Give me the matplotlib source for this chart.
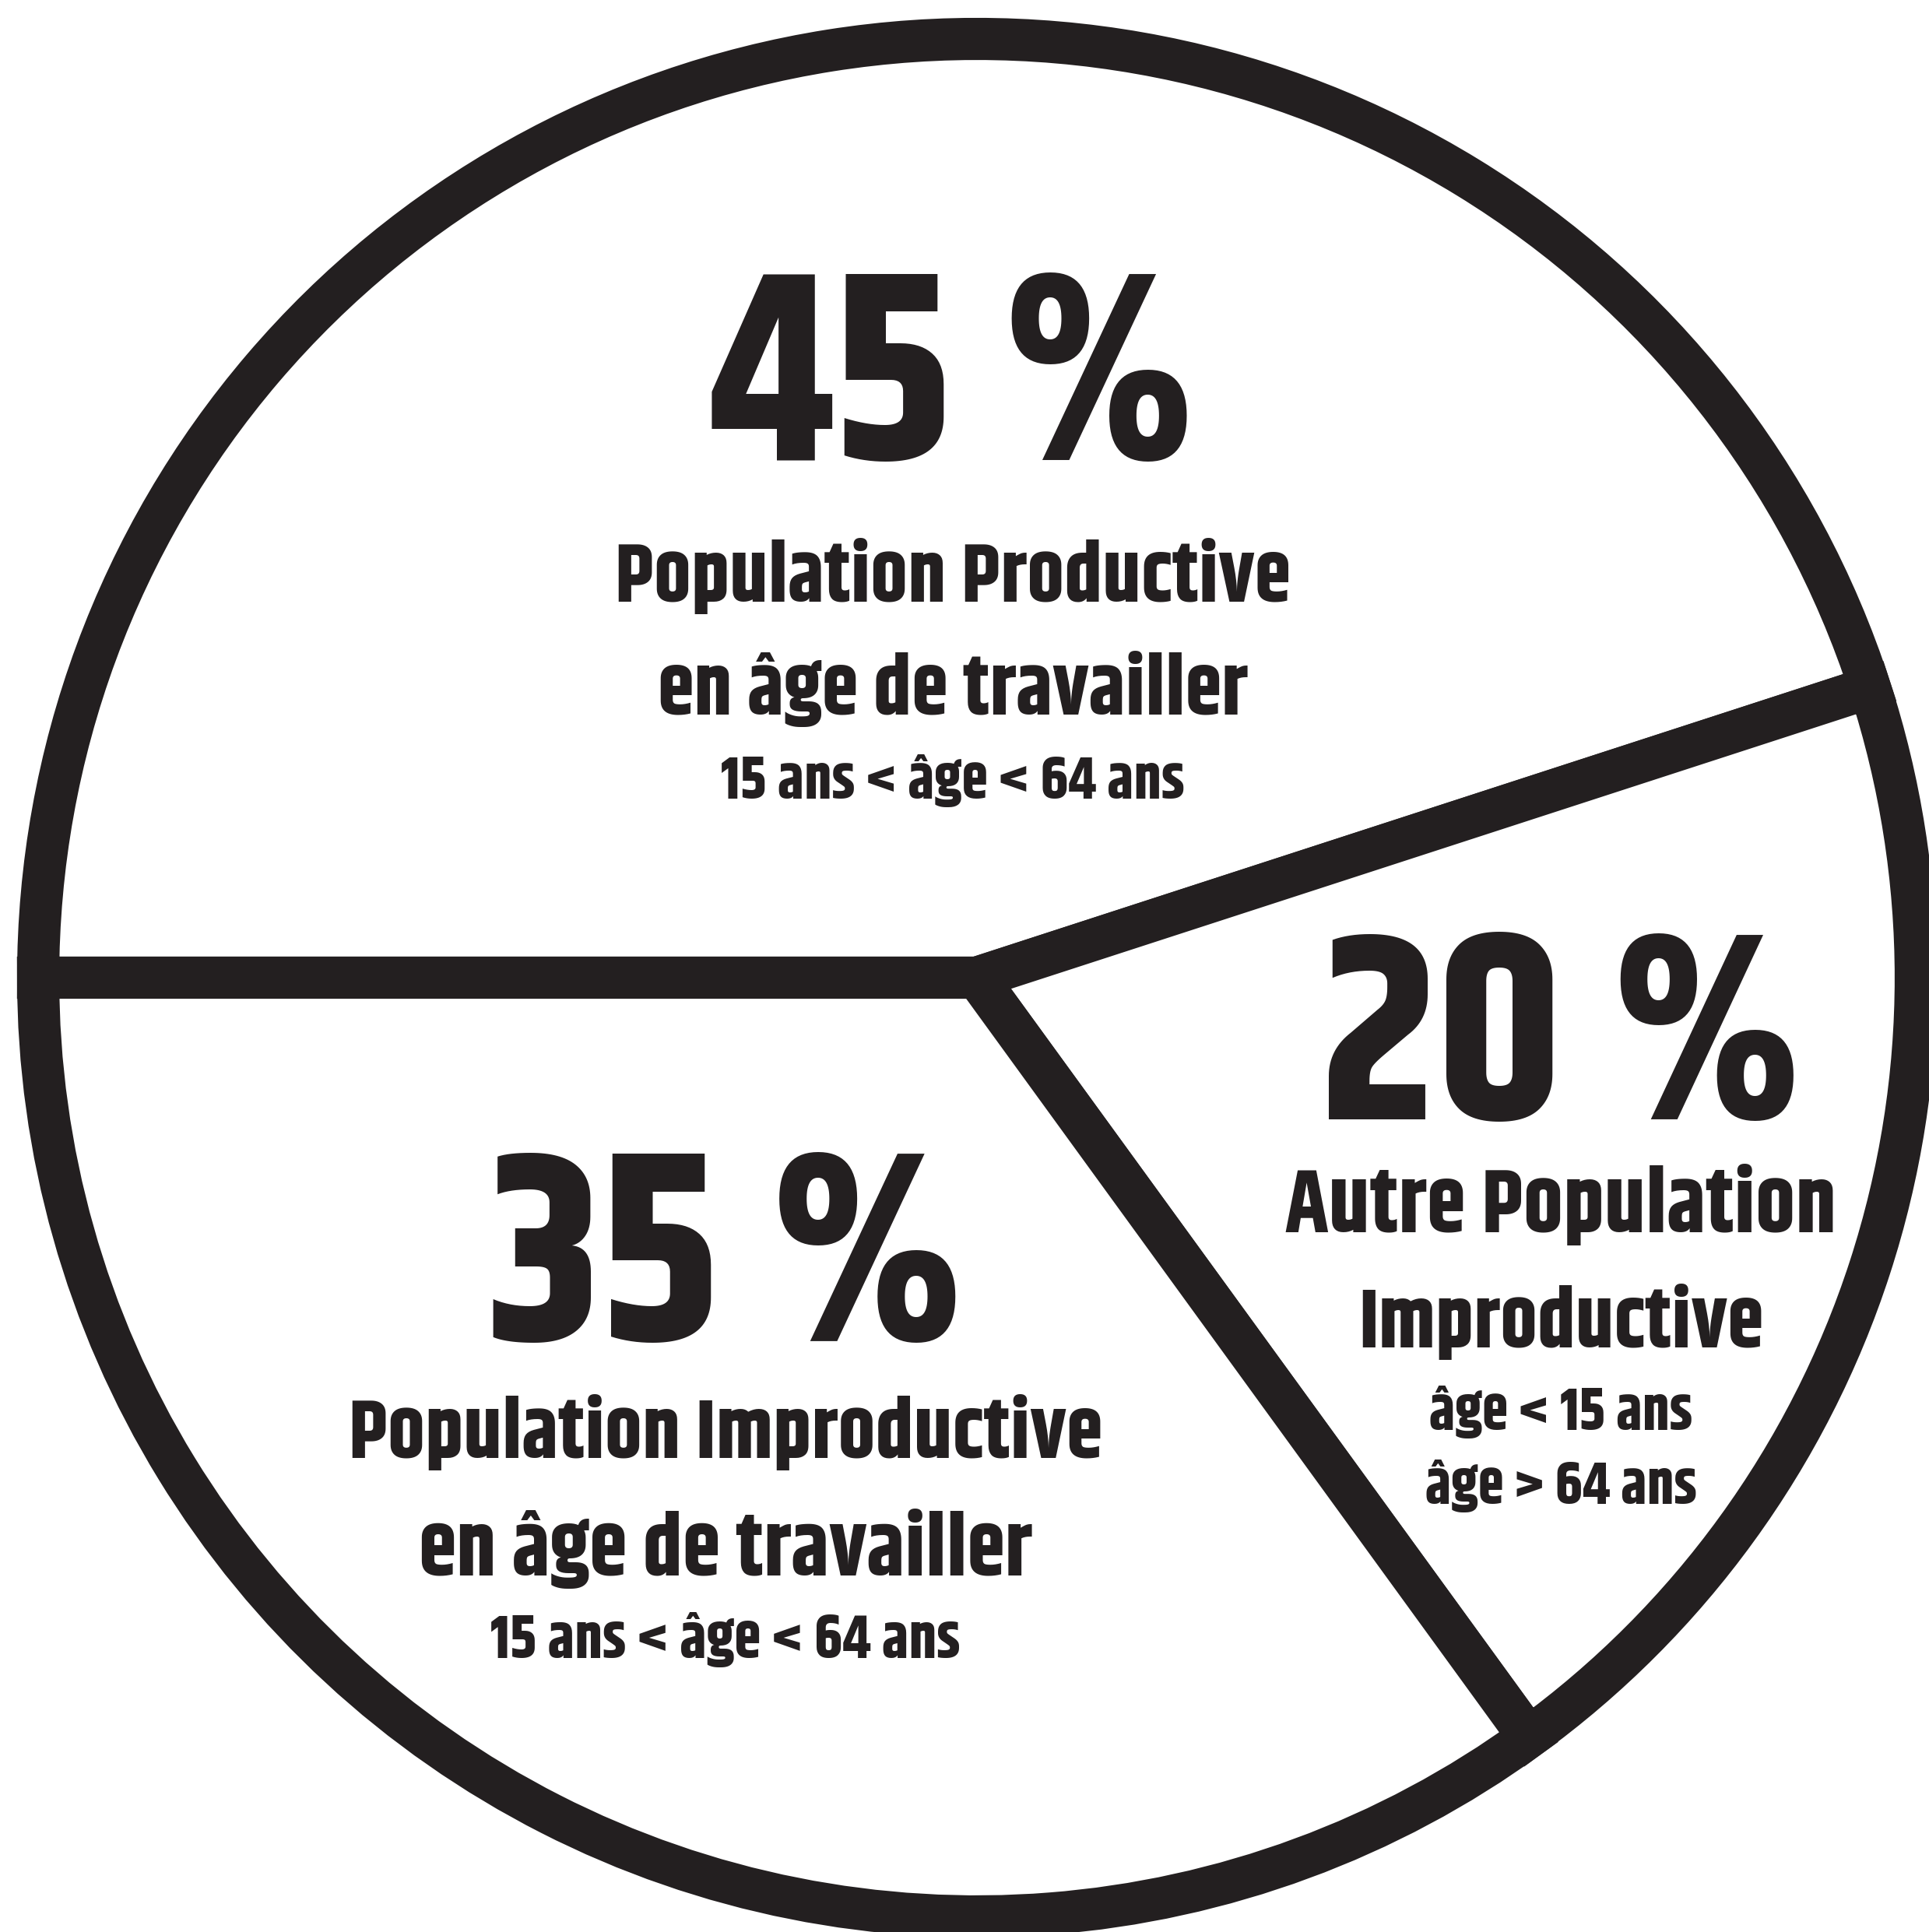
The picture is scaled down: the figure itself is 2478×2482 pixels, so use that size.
import matplotlib.pyplot as plt

# shares of the population (percent), clockwise from the left horizontal
shares = [45, 20, 35]
pct_labels = ["45 %", "20 %", "35 %"]
titles = [
    ["Population Productive", "en âge de travailler"],
    ["Autre Population", "Improductive"],
    ["Population Improductive", "en âge de travailler"],
]
ranges = [
    ["15 ans < âge < 64 ans"],
    ["âge < 15 ans", "âge > 64 ans"],
    ["15 ans < âge < 64 ans"],
]

ink = "#231f20"
fam = ["Khand", "Barlow Condensed", "DejaVu Sans"]

W, H = 2478, 2482
fig = plt.figure(figsize=(W / 100, H / 100), dpi=100)
ax = fig.add_axes([0, 0, 1, 1])

# the pie itself: white slices, thick dark outlines
ax.pie(shares, startangle=180, counterclock=False,
       center=(1255, 1226), radius=1206,
       colors=["white"] * 3,
       wedgeprops=dict(edgecolor=ink, linewidth=39, joinstyle="miter"))

ax.set_xlim(0, W)
ax.set_ylim(0, H)
ax.set_aspect("equal")
ax.axis("off")

# layout per block: x centre, baseline of pct, baselines of title / range lines,
# and the width (px) each line spans in the original
blocks = [
    dict(x=1224, pct=(1891, 559), tit=[(1709, 820), (1564, 716)], rng=[(1456, 562)]),
    dict(x=2005, pct=(1044, 554), tit=[(899, 668), (751, 491)], rng=[(645, 320), (550, 329)]),
    dict(x=932, pct=(759, 549), tit=[(609, 913), (458, 744)], rng=[(352, 570)]),
]

renderer = fig.canvas.get_renderer()


def fitted(x, y, s, width, grow):
    # the original face is narrower, so let the text run a bit wider to gain height
    t = ax.text(x, y, s, ha="center", va="baseline", fontsize=100,
                fontweight="bold", color=ink, family=fam)
    w = t.get_window_extent(renderer).width
    t.set_fontsize(100 * width * grow / w)
    return t


for i, b in enumerate(blocks):
    fitted(b["x"], b["pct"][0], pct_labels[i], b["pct"][1], 1.12)
    for (y, w), s in zip(b["tit"], titles[i]):
        fitted(b["x"], y, s, w, 1.06)
    for (y, w), s in zip(b["rng"], ranges[i]):
        fitted(b["x"], y, s, w, 1.06)

fig.savefig("out.png", dpi=100, facecolor="white")
